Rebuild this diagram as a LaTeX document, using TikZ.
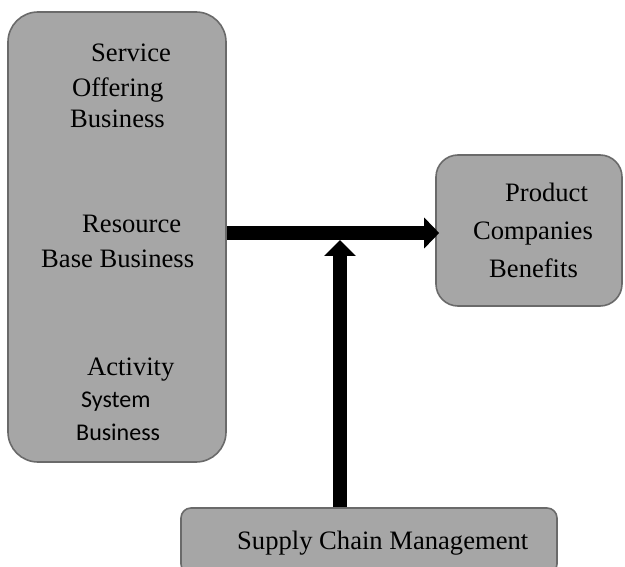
\documentclass[tikz,border=0pt]{standalone}
\usepackage{fontspec}
\setmainfont{Liberation Serif}
\newfontfamily\calib{Carlito}
\usetikzlibrary{arrows.meta}
\definecolor{boxfill}{HTML}{A6A6A6}
\definecolor{boxline}{HTML}{6A6A6A}
\tikzset{
  gbox/.style={draw=boxline, fill=boxfill, line width=1.6pt, inner sep=0pt},
  lbl/.style={anchor=base west, inner sep=0pt, font=\fontsize{26.6}{30}\selectfont},
  slbl/.style={anchor=base west, inner sep=0pt, font=\calib\fontsize{24}{28}\selectfont},
  bigarrow/.style={line width=14pt}
}
\begin{document}
\begin{tikzpicture}[x=1pt,y=-1pt]
\useasboundingbox (0,0) rectangle (625,567);
% boxes
\node[gbox, rounded corners=30pt, minimum width=218pt, minimum height=450pt] (lb) at (117,237) {};
\node[gbox, rounded corners=22pt, minimum width=186pt, minimum height=151pt] (rb) at (529,230.5) {};
\node[gbox, rounded corners=10pt, minimum width=376pt, minimum height=66pt] (bb) at (369,541) {};
% left texts
\node[lbl] (t1) at (91,62) {Service};
\node[lbl] (t2) at (72,97) {Offering};
\node[lbl] (t3) at (70,128) {Business};
\node[lbl] (t4) at (82,233) {Resource};
\node[lbl] (t5) at (41,268) {Base Business};
\node[lbl] (t6) at (87,376) {Activity};
\node[slbl] (t7) at (81,407) {System};
\node[slbl] (t8) at (76,440) {Business};
% right texts
\node[lbl] (r1) at (505,202) {Product};
\node[lbl] (r2) at (473,240) {Companies};
\node[lbl] (r3) at (489,278) {Benefits};
% bottom text
\node[lbl] (b1) at (237,549) {Supply Chain Management};
% arrows
\coordinate (hstart) at (lb.east |- 0,233);
\coordinate (hend) at (rb.west |- 0,233);
\draw[bigarrow, -{Triangle[length=15pt,width=30pt]}] (hstart) -- ([xshift=4pt]hend);
\coordinate (vstart) at (bb.north -| 340,0);
\coordinate (vend) at (340,240);
\draw[bigarrow, -{Triangle[length=16pt,width=31pt]}] (vstart) -- (vend);
\end{tikzpicture}
\end{document}
